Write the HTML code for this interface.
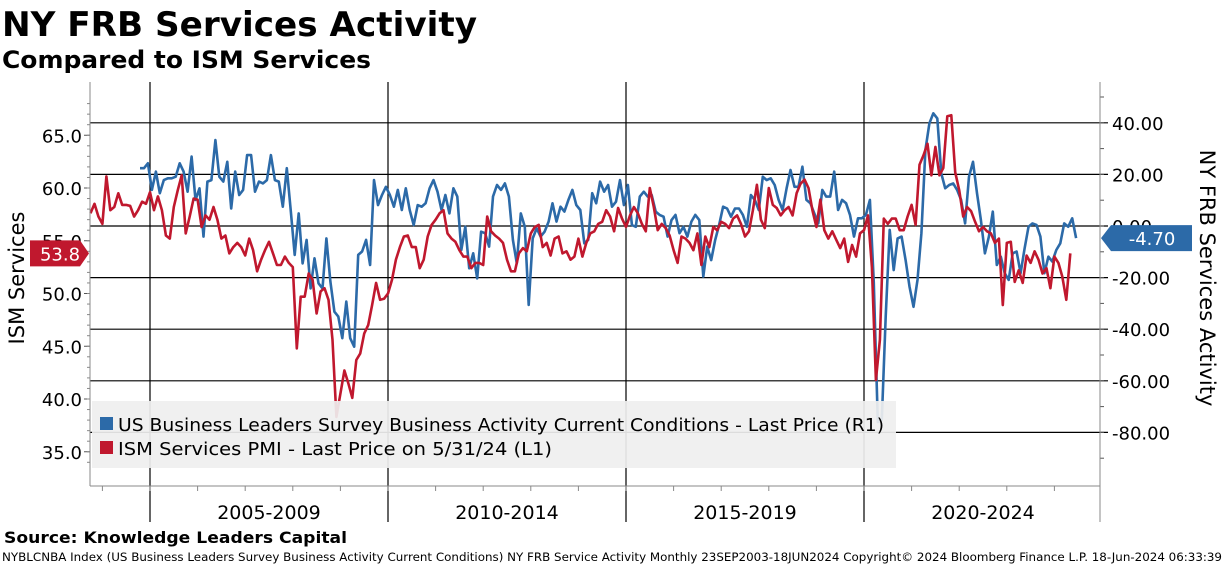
<!DOCTYPE html>
<html><head><meta charset="utf-8"><style>
body{margin:0;background:#fff;width:1224px;height:566px;overflow:hidden;font-family:"Liberation Sans",sans-serif}
svg text{font-family:"DejaVu Sans","Liberation Sans",sans-serif}
</style></head><body>
<svg id="chart" width="1224" height="566" xmlns="http://www.w3.org/2000/svg">
<text x="2" y="36" font-size="34" font-weight="bold" textLength="475" lengthAdjust="spacingAndGlyphs">NY FRB Services Activity</text>
<text x="2" y="68" font-size="24" font-weight="bold" textLength="369" lengthAdjust="spacingAndGlyphs">Compared to ISM Services</text>
<g id="grid"></g><g id="series"></g>
<rect x="92" y="401" width="804" height="67" fill="#efefef" opacity="0.92"/>
<rect x="100" y="417" width="13" height="13" fill="#2c6aa8"/>
<text x="118" y="431" font-size="18" textLength="766" lengthAdjust="spacingAndGlyphs">US Business Leaders Survey Business Activity Current Conditions - Last Price (R1)</text>
<rect x="100" y="441" width="13" height="13" fill="#c0182e"/>
<text x="118" y="455" font-size="18" textLength="434" lengthAdjust="spacingAndGlyphs">ISM Services PMI - Last Price on 5/31/24 (L1)</text>
<g id="axes"></g>
<text transform="translate(24,278) rotate(-90)" text-anchor="middle" font-size="21">ISM Services</text>
<text transform="translate(1200,278) rotate(90)" text-anchor="middle" font-size="21">NY FRB Services Activity</text>
<text x="4" y="543" font-size="16" font-weight="bold" textLength="343" lengthAdjust="spacingAndGlyphs">Source: Knowledge Leaders Capital</text>
<text x="2" y="561" font-size="11.3" textLength="1220" lengthAdjust="spacingAndGlyphs">NYBLCNBA Index (US Business Leaders Survey Business Activity Current Conditions) NY FRB Service Activity  Monthly 23SEP2003-18JUN2024 Copyright© 2024 Bloomberg Finance L.P. 18-Jun-2024 06:33:39</text>
</svg>
<script>
const ismStart = 2003.75;
const nyStart = 2004.79;
const ismValues = [57.6,58.5,57.3,56.6,61.1,57.9,58.2,59.5,58.4,58.4,58.3,57.3,57.9,58.7,58.5,59.6,57.9,59.2,57.9,55.5,55.2,58.2,59.8,61.2,55.7,57.3,59.0,58.9,56.3,57.4,57.0,58.2,57.0,55.2,55.5,53.8,54.4,54.8,54.4,53.6,55.2,54.1,52.1,53.2,54.1,54.9,53.8,52.7,52.7,53.5,52.9,52.5,44.8,49.7,49.7,51.9,51.3,48.1,50.2,50.5,49.4,45.6,38.3,40.5,42.7,41.5,40.1,43.7,44.3,46.2,47.0,48.9,51.0,49.4,49.5,50.0,51.3,53.2,54.4,
55.4,55.5,54.4,54.4,52.4,53.2,55.4,56.5,57.0,57.6,57.9,55.7,55.2,54.9,54.1,53.5,53.5,52.4,52.9,52.9,52.7,57.3,55.9,55.5,55.2,54.8,53.2,52.1,52.1,53.8,54.3,54.0,55.7,56.3,56.5,54.4,54.8,53.6,55.2,55.4,53.8,54.0,53.2,53.5,55.2,53.5,54.8,55.7,55.9,56.6,56.8,57.9,57.3,55.9,58.1,57.1,56.3,57.4,58.2,57.6,56.6,55.9,60.0,58.2,56.0,56.6,56.2,55.5,54.1,52.9,
55.4,55.2,54.8,54.1,55.7,52.7,55.4,54.4,56.3,56.0,56.8,56.6,56.2,57.1,57.4,56.6,55.4,55.9,57.9,60.3,57.0,56.2,60.0,58.4,58.1,57.4,57.9,58.2,57.4,59.5,60.4,60.8,60.0,57.9,56.3,58.9,56.0,55.2,55.9,55.1,54.3,55.2,53.0,54.6,53.5,55.7,56.0,57.4,52.5,
41.8,45.6,57.1,56.6,57.1,57.1,56.0,56.0,57.3,58.4,56.5,62.2,63.1,64.2,61.2,63.9,61.2,61.9,66.8,66.9,61.5,59.8,57.3,58.2,57.8,56.8,55.9,56.3,55.9,55.7,54.8,55.2,48.9,54.8,54.9,51.1,52.2,51.0,53.6,52.9,54.0,53.2,51.9,52.4,50.5,53.5,52.9,51.6,49.4,53.8];
const nyValues = [22.4,22.4,24.3,14.0,21.1,12.7,17.8,18.5,18.5,19.1,24.3,21.1,13.3,26.9,10.1,14.6,-4.1,17.2,17.8,33.3,19.1,17.2,24.9,6.8,21.1,12.0,14.0,27.5,27.5,13.3,17.2,16.5,17.8,27.5,17.8,17.2,7.5,22.4,6.2,-11.2,4.9,-14.5,-5.4,-24.2,-12.5,-22.2,-24.2,-4.8,-21.6,-33.2,-35.1,-43.5,-29.3,-43.5,-46.8,-11.2,-9.9,-5.4,-15.1,17.8,8.1,12.0,15.2,12.0,7.5,14.0,6.2,
14.6,6.2,0.4,8.1,7.5,8.8,14.6,17.8,13.3,6.2,12.0,4.9,14.6,11.4,-9.3,-0.3,-16.4,-10.6,-20.3,-2.2,-2.8,-8.0,11.4,15.9,14.0,16.5,11.4,-5.4,-14.5,4.9,-0.3,-30.6,-4.8,-0.9,-4.1,-2.2,1.7,8.8,1.7,7.5,5.6,10.1,14.0,8.1,6.2,-6.7,-5.4,12.7,8.8,17.2,13.3,15.9,7.5,9.4,17.8,8.1,15.9,0.4,-0.3,11.4,13.3,11.4,12.0,5.6,4.3,3.6,-4.1,2.3,4.3,-2.8,
-0.3,-4.1,1.7,4.3,2.3,-19.6,-8.0,-13.2,-5.4,0.4,7.5,6.8,3.6,6.8,6.8,4.3,-0.3,12.0,10.1,6.2,19.1,17.8,18.5,15.9,10.1,6.2,14.6,21.7,15.2,15.2,23.0,10.1,8.8,4.9,1.0,14.0,11.4,11.4,21.1,6.2,10.1,8.8,4.3,-4.1,3.0,3.0,4.3,10.1,-22.0,
-76.0,-75.2,-35.1,-1.5,-17.1,-4.8,-4.1,-13.2,-23.5,-31.3,-20.9,-2.8,29.5,39.8,43.7,41.7,20.4,14.6,15.9,16.5,14.0,10.1,1.0,19.1,24.9,12.7,2.3,-10.6,-4.1,5.6,-15.1,-11.9,-18.3,-20.9,-10.6,-9.9,-18.3,-8.7,-0.3,1.0,0.4,-4.1,-18.3,-11.9,-13.8,-9.3,-6.7,1.0,-0.3,3.0,-4.7];
const leftTicks = [35,40,45,50,55,60,65];
const rightTicks = [-80,-60,-40,-20,0,20,40];
const xBands = ["2005-2009","2010-2014","2015-2019","2020-2024"];
const xBandStarts = [2005,2010,2015,2020];

const X0=90,X1=1100,YT=82,YB=486;
function xs(t){return 150+(t-2005)*47.6;}
function yl(v){return 188-(v-60)*10.55;}
function yr(v){return 226-v*2.58;}
const NS="http://www.w3.org/2000/svg";
function mk(tag,attrs,parent){const e=document.createElementNS(NS,tag);for(const k in attrs)e.setAttribute(k,attrs[k]);parent.appendChild(e);return e;}
const grid=document.getElementById('grid'),axes=document.getElementById('axes'),series=document.getElementById('series');
rightTicks.forEach(v=>{
  const l=mk('line',{x1:X0,x2:X1+8,y1:yr(v),y2:yr(v),stroke:'#000','stroke-width':1.2},grid);
  
  
  const t=mk('text',{x:1112,y:yr(v)+7,'font-size':18},axes);
  t.textContent=v.toFixed(2);
  
  
});
for(let v=-90;v<=50;v+=10){mk('line',{x1:X1,x2:X1+4,y1:yr(v),y2:yr(v),stroke:'#555'},axes);}
xBandStarts.forEach((s,i)=>{
  const l=mk('line',{x1:xs(s),x2:xs(s),y1:YT,y2:522,stroke:'#000','stroke-width':1.2},grid);
  
  
  const t=mk('text',{x:xs(s+2.5),y:519,'font-size':19,'text-anchor':'middle'},axes);
  t.textContent=xBands[i];
  
  
});
mk('line',{x1:X1,x2:X1,y1:YT,y2:522,stroke:'#888'},axes);
mk('line',{x1:X0,x2:X0,y1:YT,y2:YB,stroke:'#888'},axes);
mk('line',{x1:X0,x2:X1,y1:YB,y2:YB,stroke:'#888'},axes);
for(let y=2004;y<=2024;y++){mk('line',{x1:xs(y),x2:xs(y),y1:YB,y2:YB+5,stroke:'#888'},axes);}
leftTicks.forEach(v=>{
  const t=mk('text',{x:82,y:yl(v)+7,'font-size':18,'text-anchor':'end'},axes);
  t.textContent=v.toFixed(1);
  
  
  mk('line',{x1:84,x2:X0,y1:yl(v),y2:yl(v),stroke:'#555'},axes);
});
for(let v=34;v<=68;v++){mk('line',{x1:87,x2:X0,y1:yl(v),y2:yl(v),stroke:'#888'},axes);}
function path(vals,start,yf,color,name){
  const d=vals.map((v,i)=>(i?'L':'M')+xs(start+i/12).toFixed(1)+' '+yf(v).toFixed(1)).join(' ');
  const p=mk('path',{d:d,fill:'none',stroke:color,'stroke-width':2.6,'stroke-linejoin':'round'},series);
  
  
}
path(nyValues,nyStart,yr,'#2c6aa8','nyfrb-line');
path(ismValues,ismStart,yl,'#c0182e','ism-line');
const lastI=ismValues[ismValues.length-1], lastN=nyValues[nyValues.length-1];
const yi=yl(lastI);
const tagL=mk('path',{d:`M30 ${yi-13} H80 L89 ${yi} L80 ${yi+13} H30 Z`,fill:'#c0182e'},axes);


const tl=mk('text',{x:60,y:yi+7,'font-size':18,'text-anchor':'middle',fill:'#fff'},axes);
tl.textContent=lastI.toFixed(1);


const yn=yr(lastN);
const tagR=mk('path',{d:`M1101 ${yn} L1111 ${yn-13} H1192 V${yn+13} H1111 Z`,fill:'#2c6aa8'},axes);


const tr=mk('text',{x:1152,y:yn+7,'font-size':18,'text-anchor':'middle',fill:'#fff'},axes);
tr.textContent=lastN.toFixed(2);


</script>
</body></html>
